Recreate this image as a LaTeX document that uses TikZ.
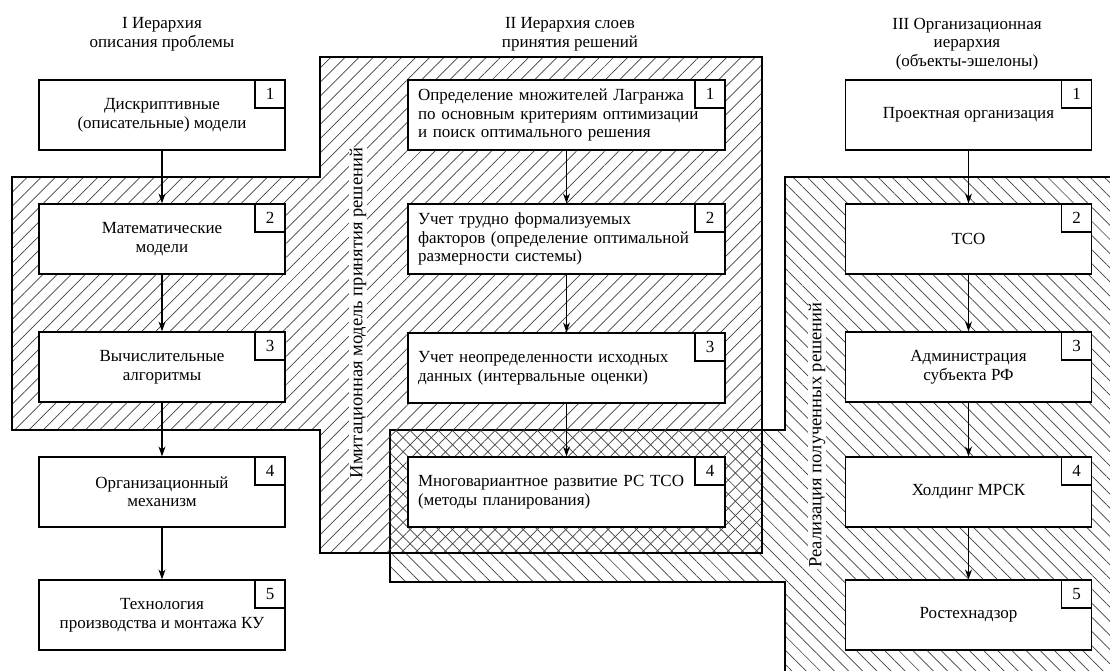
\documentclass[tikz,border=0pt]{standalone}
\usepackage{fontspec}
\setmainfont{Liberation Serif}
\usetikzlibrary{arrows.meta,patterns.meta}
\newcommand*{\textsz}{\fontsize{17}{18.5}\selectfont}
\tikzset{%
  block/.style={draw, line width=1.2pt, fill=white, minimum width=246pt,
    minimum height=70pt, align=center, font=\textsz},% box of a hierarchy level
  wideblock/.style={block, minimum width=317pt, text width=297pt,
    align=left, inner xsep=10pt},% box of a decision layer
  number/.style={draw, line width=1.2pt, fill=white, anchor=north east,
    minimum width=30pt, minimum height=28pt, inner sep=0pt, font=\textsz},% number in the corner
  flow/.style={line width=1.2pt, -{Stealth[length=10pt, width=7pt]}},% arrow between boxes
  header/.style={align=center, font=\textsz},% column title
  sidelabel/.style={rotate=90, fill=white, inner sep=1pt,
    font=\fontsize{18.5}{20}\selectfont},% rotated zone title
  zoneA/.style={pattern={Lines[angle=45, distance=10pt, line width=0.7pt]},
    pattern color=black!75},% imitation zone
  zoneB/.style={pattern={Lines[angle=-45, distance=10pt, line width=0.7pt]},
    pattern color=black!75}% realisation zone
}

\begin{document}
\begin{tikzpicture}[x=1pt, y=-1pt]
\useasboundingbox (0,0) rectangle (1110,671);

% hatched zones
\fill[zoneB] (785,177) -- (1110,177) -- (1110,671) -- (785,671) -- (785,582)
  -- (390,582) -- (390,430) -- (785,430) -- cycle;
\draw[line width=1.2pt] (1110,177) -- (785,177) -- (785,430) -- (390,430)
  -- (390,582) -- (785,582) -- (785,671);
\draw[zoneA, line width=1.2pt] (12,177) -- (320,177) -- (320,57) -- (762,57)
  -- (762,553) -- (320,553) -- (320,430) -- (12,430) -- cycle;

% column titles
\node[header] (h1) at (162,34) {I Иерархия\\описания проблемы};
\node[header] (h2) at (570,34) {II Иерархия слоев\\принятия решений};
\node[header] (h3) at (967,44) {III Организационная\\иерархия\\(объекты-эшелоны)};

% I
\node[block] (a1) at (162,115) {Дискриптивные\\(описательные) модели};
\node[block] (a2) at (162,239) {Математические\\модели};
\node[block] (a3) at (162,367) {Вычислительные\\алгоритмы};
\node[block] (a4) at (162,492) {Организационный\\механизм};
\node[block] (a5) at (162,615) {Технология\\производства и монтажа КУ};

% II
\node[wideblock] (b1) at (566.5,115) {Определение множителей Лагранжа\\по основным критериям оптимизации\\и поиск оптимального решения};
\node[wideblock] (b2) at (566.5,239) {Учет трудно формализуемых\\факторов (определение оптимальной\\размерности системы)};
\node[wideblock] (b3) at (566.5,368) {Учет неопределенности исходных\\данных (интервальные оценки)};
\node[wideblock] (b4) at (566.5,492) {Многовариантное развитие РС ТСО\\(методы планирования)};

% III
\node[block] (c1) at (968.5,115) {Проектная организация};
\node[block] (c2) at (968.5,239) {ТСО};
\node[block] (c3) at (968.5,367) {Администрация\\субъекта РФ};
\node[block] (c4) at (968.5,492) {Холдинг МРСК};
\node[block] (c5) at (968.5,615) {Ростехнадзор};

% numbers
\node[number] at (a1.north east) {1};
\node[number] at (a2.north east) {2};
\node[number] at (a3.north east) {3};
\node[number] at (a4.north east) {4};
\node[number] at (a5.north east) {5};
\node[number] at (b1.north east) {1};
\node[number] at (b2.north east) {2};
\node[number] at (b3.north east) {3};
\node[number] at (b4.north east) {4};
\node[number] at (c1.north east) {1};
\node[number] at (c2.north east) {2};
\node[number] at (c3.north east) {3};
\node[number] at (c4.north east) {4};
\node[number] at (c5.north east) {5};

\draw[flow] (a1) -- (a2);
\draw[flow] (a2) -- (a3);
\draw[flow] (a3) -- (a4);
\draw[flow] (a4) -- (a5);
\draw[flow] (b1) -- (b2);
\draw[flow] (b2) -- (b3);
\draw[flow] (b3) -- (b4);
\draw[flow] (c1) -- (c2);
\draw[flow] (c2) -- (c3);
\draw[flow] (c3) -- (c4);
\draw[flow] (c4) -- (c5);

% zone titles
\node[sidelabel] (imit) at (358,313) {Имитационная модель принятия решений};
\node[sidelabel] (real) at (817,435) {Реализация полученных решений};

\end{tikzpicture}
\end{document}
